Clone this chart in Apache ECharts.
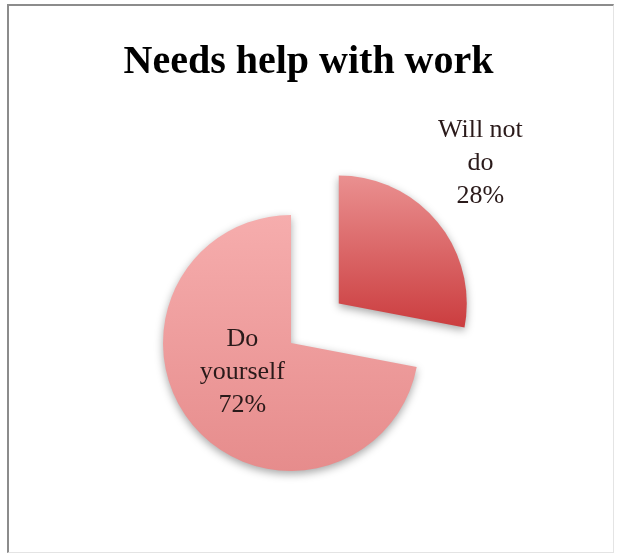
<!DOCTYPE html>
<html>
<head>
<meta charset="utf-8">
<script src="https://cdn.jsdelivr.net/npm/echarts@6/dist/echarts.min.js"></script>
<style>
  html, body { margin: 0; padding: 0; background: #fff; }
  #frame {
    position: absolute; left: 7px; top: 4px; width: 604px; height: 546px;
    border-top: 2px solid #8c8c8c; border-left: 2px solid #8c8c8c;
    border-right: 1px solid #e4e4e4; border-bottom: 1px solid #e4e4e4;
  }
  #chart { position: absolute; left: 0; top: 0; width: 617px; height: 556px; }
</style>
</head>
<body>
<div id="frame"></div>
<div id="chart"></div>
<script>
// Survey split for "Needs help with work"
const categories = ['Will not do', 'Do yourself'];
const shares = [28, 72];
const labelTexts = ['Will not\ndo\n28%', 'Do\nyourself\n72%'];
const titleText = 'Needs help with work';

// label nudges away from the default inside position, per slice
const labelShift = [[90, -98], [3, -14]];

const fills = [
  new echarts.graphic.LinearGradient(0, 0, 0, 1, [
    { offset: 0, color: '#ea9090' },
    { offset: 1, color: '#cb3d3f' }
  ]),
  new echarts.graphic.LinearGradient(0, 0, 0, 1, [
    { offset: 0, color: '#f6adad' },
    { offset: 1, color: '#e68c8c' }
  ])
];

const data = categories.map((name, i) => ({
  name: name,
  value: shares[i],
  selected: i === 0,
  itemStyle: { color: fills[i] },
  label: { formatter: labelTexts[i] }
}));

const chart = echarts.init(document.getElementById('chart'), null, { renderer: 'canvas' });
chart.setOption({
  backgroundColor: 'transparent',
  animation: false,
  title: {
    text: titleText,
    left: 'center',
    top: 38,
    textStyle: {
      fontFamily: 'Liberation Serif',
      fontWeight: 'bold',
      fontSize: 40,
      color: '#000'
    }
  },
  series: [{
    type: 'pie',
    center: [291, 343],
    radius: 128,
    startAngle: 90,
    clockwise: true,
    selectedMode: 'single',
    selectedOffset: 62,
    emphasis: { disabled: true },
    labelLine: { show: false },
    label: {
      show: true,
      position: 'inside',
      fontFamily: 'Liberation Serif',
      fontSize: 26,
      lineHeight: 33,
      color: '#2a1a1a',
      align: 'center'
    },
    labelLayout: function (params) {
      const s = labelShift[params.dataIndex];
      return { dx: s[0], dy: s[1] };
    },
    itemStyle: {
      shadowBlur: 8,
      shadowColor: 'rgba(0,0,0,0.35)',
      shadowOffsetY: 3
    },
    data: data
  }]
});
</script>
</body>
</html>
